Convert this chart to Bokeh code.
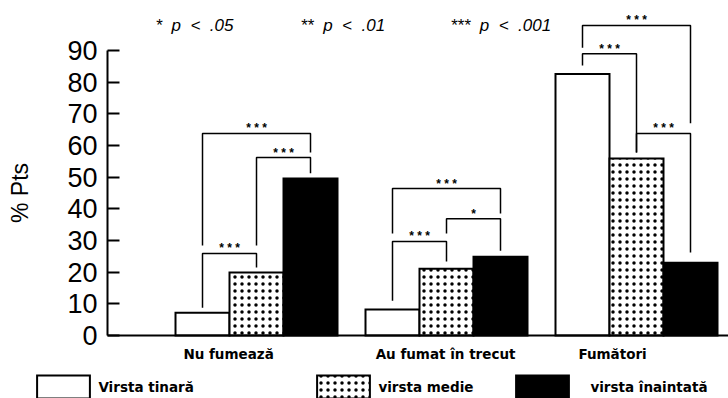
from bokeh.plotting import figure
from bokeh.models import Range1d, Legend, LegendItem, ColumnDataSource, FixedTicker
from bokeh.core.properties import value
from bokeh.embed import file_html
from bokeh.resources import INLINE

# ---------------- data ----------------
categories = ["Nu fumează", "Au fumat în trecut", "Fumători"]
age_groups = ["Virsta tinară", "virsta medie", "virsta înaintată"]
young = [7.2, 8.2, 82.6]
middle = [19.9, 21.1, 55.9]
old = [49.6, 24.9, 23.0]
y_ticks = [0, 10, 20, 30, 40, 50, 60, 70, 80, 90]

# significance brackets: category, bar from, bar to, level, leg ends, label
br_group = [0, 0, 0, 1, 1, 1, 2, 2, 2]
br_from = [0, 1, 0, 0, 1, 0, 0, 1, 0]
br_to = [1, 2, 2, 1, 2, 2, 1, 2, 2]
br_level = [25.9, 56.2, 63.8, 29.7, 36.9, 46.4, 89.0, 63.8, 97.9]
br_left_end = [8.8, 28.4, 28.4, 11.0, 32.2, 32.2, 85.3, 57.8, 90.9]
br_right_end = [21.5, 51.2, 57.8, 23.4, 26.8, 38.5, 57.8, 26.2, 67.0]
br_label = ["* * *", "* * *", "* * *", "* * *", "*", "* * *", "* * *", "* * *", "* * *"]

NB = "\u00a0"
sig_labels = ["*" + NB * 2 + "p" + NB * 2 + "<" + NB * 2 + ".05",
              "**" + NB * 2 + "p" + NB * 2 + "<" + NB * 2 + ".01",
              "***" + NB * 2 + "p" + NB * 2 + "<" + NB * 2 + ".001"]

# ---------------- layout constants ----------------
W, H = 728, 398
bar_step = 54 / 190.0
x_start, x_end = -1.3474, 2.4842
y_start, y_end = -19.89, 105.79
axis_x = -0.7842
cat_shift = [-0.147, -0.005, -0.126]
sig_x = [-0.5316, 0.2316, 1.021]
sig_y = 97.9

p = figure(width=W, height=H, output_backend="svg", toolbar_location=None,
           x_range=Range1d(x_start, x_end), y_range=Range1d(y_start, y_end),
           min_border=0, min_border_left=0, min_border_right=0,
           min_border_top=0, min_border_bottom=0)
p.outline_line_color = None
p.grid.visible = False
p.background_fill_color = "white"
p.border_fill_color = "white"

# y axis (fixed inside frame)
ya = p.yaxis[0]
ya.fixed_location = axis_x
ya.bounds = (0, 90)
ya.ticker = FixedTicker(ticks=y_ticks)
ya.major_tick_in = 12
ya.major_tick_out = 0
ya.minor_tick_in = 0
ya.minor_tick_out = 0
ya.axis_line_width = 2
ya.major_tick_line_width = 2
ya.major_label_standoff = 10
ya.major_label_text_font = "Liberation Sans"
ya.major_label_text_font_size = "27px"
ya.major_label_text_color = "black"
ya.axis_label = "% Pts"
ya.axis_label_text_font = "Liberation Sans"
ya.axis_label_text_font_size = "23px"
ya.axis_label_text_font_style = "normal"
ya.axis_label_standoff = 31
ya.axis_label_text_color = "black"

# x axis = baseline
xa = p.xaxis[0]
xa.fixed_location = 0
xa.bounds = (axis_x, x_end)
xa.ticker = FixedTicker(ticks=[])
xa.major_tick_in = 0
xa.major_tick_out = 0
xa.minor_tick_in = 0
xa.minor_tick_out = 0
xa.axis_line_width = 2
xa.major_label_text_font_size = "0px"

# bars
series = [young, middle, old]
styles = [
    dict(fill_color="white"),
    dict(fill_color="white", hatch_pattern="dot", hatch_color="black", hatch_scale=7, hatch_weight=1.5),
    dict(fill_color="black"),
]
renderers = []
for k, vals in enumerate(series):
    xs = [g + (k - 1) * bar_step for g in range(len(categories))]
    src = ColumnDataSource(dict(x=xs, top=vals))
    r = p.vbar(x="x", top="top", bottom=0, width=bar_step, source=src,
               line_color="black", line_width=2, line_join="miter", **styles[k])
    renderers.append(r)

# brackets
bxs, bys, sx, sy = [], [], [], []
for g, a, b, lv, le, re_ in zip(br_group, br_from, br_to, br_level, br_left_end, br_right_end):
    xl = g + (a - 1) * bar_step
    xr = g + (b - 1) * bar_step
    bxs.append([xl, xl, xr, xr])
    bys.append([le, lv, lv, re_])
    sx.append((xl + xr) / 2)
    sy.append(lv)
p.multi_line(xs=bxs, ys=bys, line_color="black", line_width=1.5)
p.text(x=sx, y=sy, text=br_label, text_align="center", text_baseline="middle",
       y_offset=-5, text_font=value("Liberation Sans"), text_font_size="12px",
       text_font_style="bold", text_color="black")

# category labels
p.text(x=[g + s for g, s in zip(range(len(categories)), cat_shift)], y=[0] * len(categories),
       text=categories, text_align="center", text_baseline="middle", y_offset=18,
       text_font=value("DejaVu Sans"), text_font_style="bold", text_font_size="13.5px",
       text_color="black")

# significance key
p.text(x=sig_x, y=[sig_y] * len(sig_labels), text=sig_labels, text_align="left",
       text_baseline="middle", text_font=value("Liberation Sans"), text_font_style="italic",
       text_font_size="17px", text_color="black")

# legends (one per age group)
leg_vx = [30.4, 310.4, 509.4]
leg_standoff = [2, 2, 15]
for r, lab, vx, so in zip(renderers, age_groups, leg_vx, leg_standoff):
    lg = Legend(items=[LegendItem(label=lab, renderers=[r])], location=(vx, -3.1),
                orientation="horizontal", glyph_width=66, glyph_height=29,
                label_standoff=so, padding=0, margin=0, spacing=0,
                border_line_color=None, background_fill_alpha=0,
                label_text_font="DejaVu Sans", label_text_font_style="bold",
                label_text_font_size="13.5px", label_text_baseline="alphabetic",
                label_text_color="black")
    p.add_layout(lg)

open("out.html", "w").write(file_html(p, INLINE))
